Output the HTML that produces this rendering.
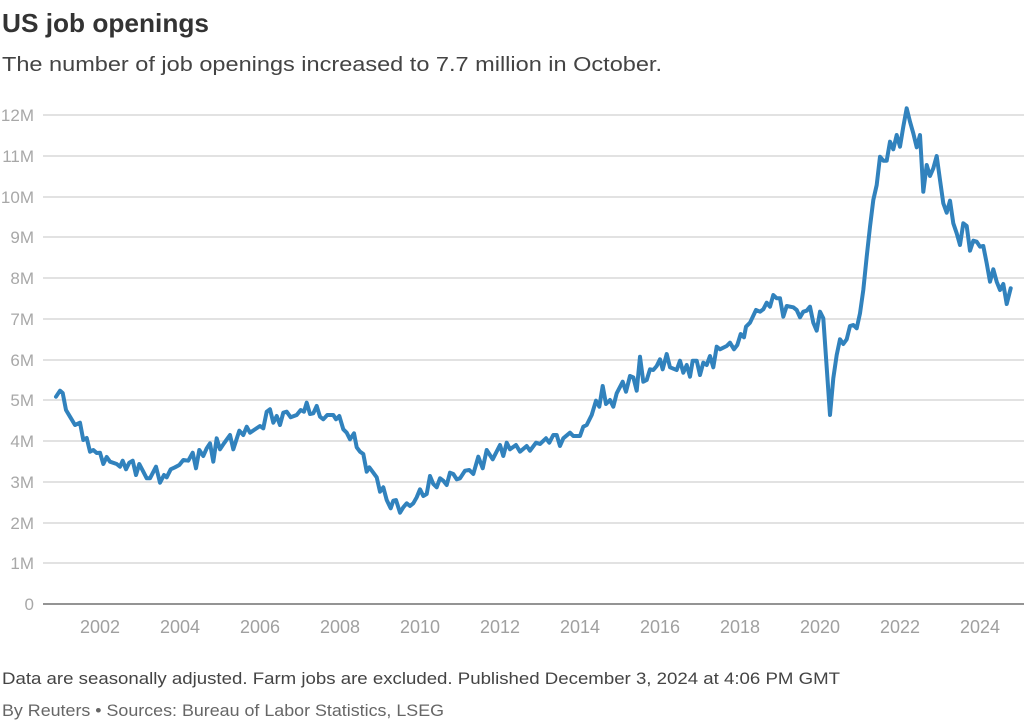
<!DOCTYPE html>
<html>
<head>
<meta charset="utf-8">
<style>
html,body{margin:0;padding:0;background:#fff;}
svg{display:block;}
text{font-family:"Liberation Sans",Arial,sans-serif;}
</style>
</head>
<body>
<svg width="1024" height="721" viewBox="0 0 1024 721" xmlns="http://www.w3.org/2000/svg">
<rect width="1024" height="721" fill="#fff"/>
<text x="2" y="32" font-size="26" font-weight="bold" fill="#333" textLength="207" lengthAdjust="spacingAndGlyphs">US job openings</text>
<text x="2" y="71" font-size="20" fill="#444" textLength="660" lengthAdjust="spacingAndGlyphs">The number of job openings increased to 7.7 million in October.</text>

<g stroke="#d0d0d0" stroke-width="1.3">
<line x1="43" y1="115" x2="1024" y2="115"/>
<line x1="43" y1="156" x2="1024" y2="156"/>
<line x1="43" y1="197" x2="1024" y2="197"/>
<line x1="43" y1="237" x2="1024" y2="237"/>
<line x1="43" y1="278" x2="1024" y2="278"/>
<line x1="43" y1="319" x2="1024" y2="319"/>
<line x1="43" y1="360" x2="1024" y2="360"/>
<line x1="43" y1="400" x2="1024" y2="400"/>
<line x1="43" y1="441" x2="1024" y2="441"/>
<line x1="43" y1="482" x2="1024" y2="482"/>
<line x1="43" y1="523" x2="1024" y2="523"/>
<line x1="43" y1="563" x2="1024" y2="563"/>
</g>
<line x1="43" y1="604" x2="1024" y2="604" stroke="#555" stroke-width="1.3"/>

<g font-size="17" fill="#a8a8a8" text-anchor="end">
<text x="34" y="121">12M</text>
<text x="34" y="162">11M</text>
<text x="34" y="203">10M</text>
<text x="34" y="243">9M</text>
<text x="34" y="284">8M</text>
<text x="34" y="325">7M</text>
<text x="34" y="366">6M</text>
<text x="34" y="406">5M</text>
<text x="34" y="447">4M</text>
<text x="34" y="488">3M</text>
<text x="34" y="529">2M</text>
<text x="34" y="569">1M</text>
<text x="34" y="610">0</text>
</g>

<g font-size="18" fill="#a0a0a0" text-anchor="middle">
<text x="100" y="633">2002</text>
<text x="180" y="633">2004</text>
<text x="260" y="633">2006</text>
<text x="340" y="633">2008</text>
<text x="420" y="633">2010</text>
<text x="500" y="633">2012</text>
<text x="580" y="633">2014</text>
<text x="660" y="633">2016</text>
<text x="740" y="633">2018</text>
<text x="820" y="633">2020</text>
<text x="900" y="633">2022</text>
<text x="980" y="633">2024</text>
</g>

<polyline fill="none" stroke="#3182bd" stroke-width="4" stroke-linejoin="round" stroke-linecap="round" points="56,396.7 60,390.7 62.7,393 66,410 70,416.7 75,425 80,422.7 83.3,440 86.7,438 90,451.7 93.3,450 96.7,453 100,452.7 103.3,464 106.7,457 110,461.7 116.7,464 120,466.7 122.7,460.7 126,469.3 129.3,462.7 132.7,460.7 136,475 139.3,464 143.3,471.7 146.7,478.3 150,478.3 156,466.7 160,482.7 164,475 166.7,477.3 170.7,469.3 175,467.3 179.3,465 183.3,460 188.3,460.7 192.7,452.7 196,468.3 199.3,450 203.3,456 206.7,448.3 210,443.3 213.3,461.7 216.7,438.3 220,449.3 224,443.3 230,435 233.3,449.3 239.3,430.7 243.3,435 246.7,426.7 250,432.7 260,426 263.3,428.3 266.7,411.7 270,409.3 273.3,422.7 276.7,416 280,425 283.3,412.7 286.7,411.7 290.7,417.3 296.7,415 300.7,410 304,411.7 306.7,402.7 310,414 313.3,413.3 316.7,406 320,416.7 323.3,419.3 327.3,415 333.3,415 336,419.3 339.3,416 343.3,429.3 346.7,432.7 350,439.3 354,433.3 356.7,447.3 360,451.7 363.3,454 366.7,471.7 369.3,467.3 373.3,472.7 376.7,477.3 380,491.7 383.3,487.3 386.7,500 390.7,508.3 393.3,500.7 396,500 400,512.7 403.3,507.3 406.7,503.3 410,506 413.3,503.3 416.7,497.3 420,489.3 423.3,496 426.7,494 430,476 433.3,484 436.7,487.3 440,478.3 443.3,480.7 446.7,485 450,472.7 453.3,474 456.7,479.3 460,478.3 465,470.7 469.3,470 473.3,474 478.3,456.7 482.7,468.3 486.7,450 492.7,459.3 500,445 503.3,456 506.7,442.7 510,449.3 516,445 520,451.7 526.7,446 530,450.7 536,442.7 540,444 546,438.3 549.3,442.7 553.3,435 556.7,435 560,446 563.3,438.3 570,432.7 573.3,436 580,436 583.3,426.7 586.7,425 591.7,415 596,400.7 599.3,406.7 602.7,386 606,404 610,400 613.3,406.7 616.7,393.3 622.7,381.7 626,391.7 630,376 633.3,377.3 636.7,390.7 640,356.7 643.3,381.7 646.7,380 650,369.3 653.3,370 656.7,366 660,359.3 662.7,369.3 666.7,354 670,367.3 676.7,370 680,360.7 683.3,372.7 686.7,365 690,376.7 692.7,360.7 696.7,360.7 700,375 703.3,362.7 706.7,365 710,356 713.3,367.3 716.7,346.7 720,349.3 726.7,346 730,342.7 734,349.3 737.3,345 740.7,334 744,337.3 746,326.7 750,322.7 756,310 760,311.7 763.3,309.3 766.7,302.7 770,306.7 773.3,295 776.7,298.3 780,298.3 783.3,316.7 786.7,306 793.3,307.3 796.7,310 800,317.3 803.3,311.7 806.7,310.7 810,306.7 813.3,322.7 816.7,330.7 820,311.7 823.3,318.3 830,415 833.3,378.3 836.7,355 840,339.3 843.3,344 846.7,339.3 850,326 853.3,325 856.7,328.3 860,313.3 863.3,290 866.7,256.7 870,226.7 873.3,200 876.7,185 880,156.7 883.3,160.7 886.7,160.7 890,141.7 893.3,149.3 896.7,135 900,146.7 903.3,126.7 906.7,108.3 910,121.7 913.3,133.3 916.7,147.3 920,135 923.3,191.7 926.7,165 930,176 933.3,168.3 936.7,156 940,180 943.3,203.3 946.7,212.7 950,200.7 953.3,223.3 956.7,233.3 960,245 963.3,223.3 966.7,226 970,250.7 973.3,240.7 976.7,241.7 980,246.7 983.3,246 986.7,263.3 990,281.7 993.3,269.3 996.7,281.7 1000,290 1003.3,284 1006.7,304 1010.7,288.3"/>

<text x="2" y="684" font-size="17" fill="#444" textLength="838" lengthAdjust="spacingAndGlyphs">Data are seasonally adjusted. Farm jobs are excluded. Published December 3, 2024 at 4:06 PM GMT</text>
<text x="2" y="716" font-size="17" fill="#666" textLength="442" lengthAdjust="spacingAndGlyphs">By Reuters • Sources: Bureau of Labor Statistics, LSEG</text>
</svg>
</body>
</html>
